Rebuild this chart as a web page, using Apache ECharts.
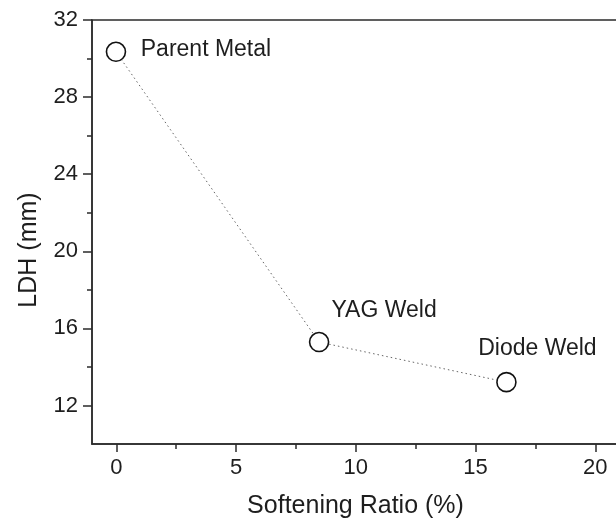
<!DOCTYPE html>
<html>
<head>
<meta charset="utf-8">
<script src="https://cdn.jsdelivr.net/npm/echarts@6/dist/echarts.min.js"></script>
<style>html,body{margin:0;padding:0;background:#fff}#c{width:616px;height:524px}</style>
</head>
<body>
<div id="c"></div>
<script>
// Data
const pointNames = ['Parent Metal', 'YAG Weld', 'Diode Weld'];
const softeningRatio = [0, 8.48, 16.3];
const ldh = [30.35, 15.29, 13.21];
const xTickLabels = ['0', '5', '10', '15', '20'];
const yTickLabels = ['12', '16', '20', '24', '28', '32'];

// label placement (style, not data)
const labelOffsets = [[90, -2], [65, -31], [31, -33]];

const FONT = '"Liberation Sans", Arial, Helvetica, sans-serif';
const AX = '#2b2b2b';
const TXT = '#1e1e1e';

const data = softeningRatio.map((x, i) => ({
  value: [x, ldh[i]],
  name: pointNames[i],
  label: { offset: labelOffsets[i] }
}));

const chart = echarts.init(document.getElementById('c'), null, {renderer: 'canvas'});
chart.setOption({
  animation: false,
  backgroundColor: '#fff',
  grid: [
    {left: 92, top: 20, width: 527, height: 424, outerBoundsMode: 'none', containLabel: false,
     show: true, borderColor: AX, borderWidth: 1.5, backgroundColor: 'transparent'},
    {left: 116.3, top: 20, width: 479, height: 385.5, outerBoundsMode: 'none', containLabel: false}
  ],
  xAxis: [
    {
      gridIndex: 0, type: 'value', min: -1, max: 21,
      axisLine: {show: true, onZero: false, lineStyle: {color: AX, width: 1.5}},
      axisTick: {show: false}, axisLabel: {show: false}, splitLine: {show: false},
      name: 'Softening Ratio (%)', nameLocation: 'middle', nameGap: 50,
      nameTextStyle: {fontFamily: FONT, fontSize: 25, color: TXT}
    },
    {
      gridIndex: 1, type: 'value', min: 0, max: 20, interval: 5, position: 'bottom', offset: 38.5,
      axisLine: {show: false, onZero: false},
      axisTick: {show: true, inside: false, length: 8, lineStyle: {color: AX, width: 1.5}},
      minorTick: {show: true, splitNumber: 2, length: 5, lineStyle: {color: AX, width: 1.5}},
      splitLine: {show: false}, minorSplitLine: {show: false},
      axisLabel: {
        margin: 13, fontFamily: FONT, fontSize: 22, color: TXT,
        formatter: (v) => xTickLabels[Math.round(v / 5)]
      }
    }
  ],
  yAxis: [
    {
      gridIndex: 0, type: 'value', min: 10, max: 32,
      axisLine: {show: true, onZero: false, lineStyle: {color: AX, width: 1.5}},
      axisTick: {show: false}, axisLabel: {show: false}, splitLine: {show: false},
      name: 'LDH (mm)', nameLocation: 'middle', nameGap: 50, nameRotate: 90,
      nameTextStyle: {fontFamily: FONT, fontSize: 25, color: TXT, padding: [0, 36, 0, 0]}
    },
    {
      gridIndex: 1, type: 'value', min: 12, max: 32, interval: 4, position: 'left', offset: 24.3,
      axisLine: {show: false, onZero: false},
      axisTick: {show: true, inside: false, length: 9, lineStyle: {color: AX, width: 1.5}},
      minorTick: {show: true, splitNumber: 2, length: 5, lineStyle: {color: AX, width: 1.5}},
      splitLine: {show: false}, minorSplitLine: {show: false},
      axisLabel: {
        margin: 14, fontFamily: FONT, fontSize: 22, color: TXT,
        formatter: (v) => yTickLabels[Math.round((v - 12) / 4)]
      }
    }
  ],
  series: [{
    type: 'line',
    xAxisIndex: 0, yAxisIndex: 0,
    data: data,
    symbol: 'circle',
    symbolSize: 19,
    itemStyle: {color: '#fff', borderColor: '#111', borderWidth: 1.6},
    lineStyle: {color: '#666', width: 1, type: [1.5, 3]},
    label: {
      show: true, position: 'inside',
      formatter: (p) => p.name,
      fontFamily: FONT, fontSize: 23, color: TXT
    },
    clip: false,
    z: 5
  }]
});
</script>
</body>
</html>
